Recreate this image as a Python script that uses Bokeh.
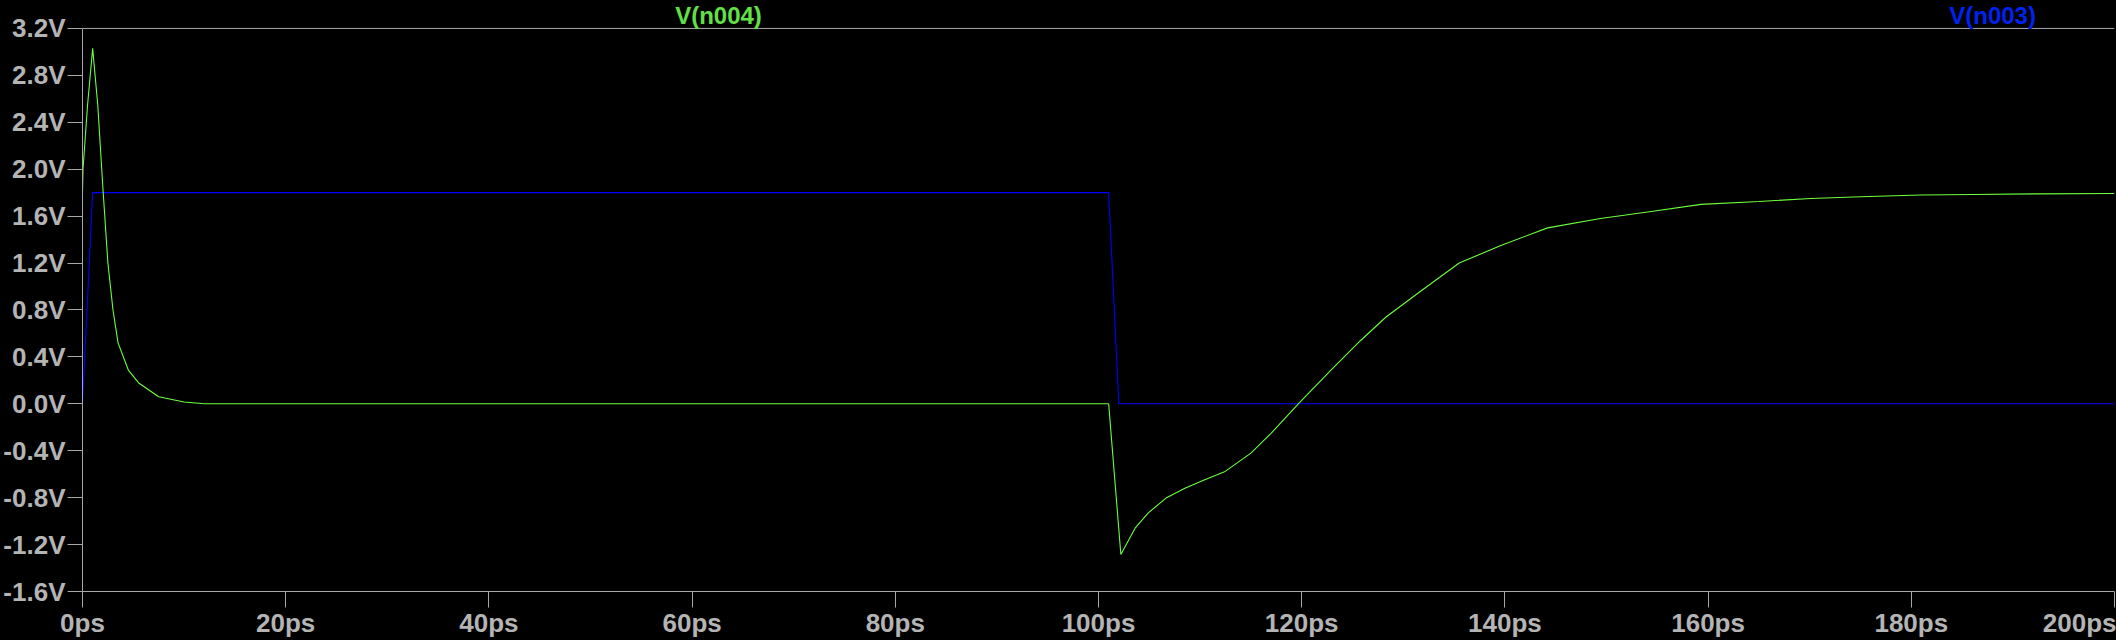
from bokeh.plotting import figure
from bokeh.models import FixedTicker, PrintfTickFormatter, Label, Range1d, Span
from bokeh.embed import file_html
from bokeh.resources import INLINE

# ---- data (time in ps, voltage in V) ----
series_names = ["V(n004)", "V(n003)"]

t_n003 = [0, 1, 101, 102, 200]
v_n003 = [0.0, 1.8, 1.8, 0.0, 0.0]

t_n004 = [0, 0.05, 0.5, 1.0, 1.5, 2.0, 2.5, 3.0, 3.5, 4.5, 5.5, 7.5, 10, 12,
          101, 102.2, 103.6, 104.9, 106.7, 108.5, 110.4, 112.4, 115.0, 117.0,
          119.9, 122.9, 125.8, 128.3, 131.7, 135.5, 139.6, 144.2, 149.4, 154.4,
          159.3, 165.0, 170.1, 175.0, 180.9, 186.0, 192.4, 200]
v_n004 = [1.8, 2.0, 2.55, 3.03, 2.55, 1.85, 1.2, 0.8, 0.52, 0.29, 0.18, 0.06, 0.015, 0.0,
          0.0, -1.285, -1.06, -0.93, -0.80, -0.72, -0.65, -0.58, -0.42, -0.25,
          0.02, 0.29, 0.54, 0.74, 0.96, 1.20, 1.35, 1.50, 1.58, 1.64,
          1.70, 1.725, 1.75, 1.765, 1.78, 1.785, 1.79, 1.793]

x_ticks = [0, 20, 40, 60, 80, 100, 120, 140, 160, 180, 200]
y_ticks = [-1.6, -1.2, -0.8, -0.4, 0.0, 0.4, 0.8, 1.2, 1.6, 2.0, 2.4, 2.8, 3.2]

X_MIN, X_MAX = 0, 200
Y_MIN, Y_MAX = -1.6, 3.2
PX_PER_V = 117.5          # vertical scale of the plot area
TOP_PAD_PX = 28           # space above the 3.2V line that holds the trace names

GREEN = "#6CFF3C"
GREEN_TXT = "#62E048"
BLUE = "#0000FF"
BLUE_TXT = "#0022EE"
GRAY = "#A8A8A8"
LABEL_GRAY = "#B4B4B4"

y_top = Y_MAX + TOP_PAD_PX / PX_PER_V

p = figure(width=2116, height=640, output_backend="svg", toolbar_location=None,
           x_range=Range1d(X_MIN, X_MAX), y_range=Range1d(Y_MIN, y_top),
           min_border_left=81, min_border_right=2, min_border_top=0, min_border_bottom=48)

p.background_fill_color = "black"
p.border_fill_color = "black"
p.outline_line_color = None
p.grid.visible = False

# top edge of the plot box
p.add_layout(Span(location=Y_MAX, dimension="width", line_color=GRAY, line_width=1))

p.line(t_n003, v_n003, line_color=BLUE, line_width=1.1)
p.line(t_n004, v_n004, line_color=GREEN, line_width=1.1)

# axes
p.xaxis.ticker = FixedTicker(ticks=x_ticks)
p.yaxis.ticker = FixedTicker(ticks=y_ticks)
p.yaxis.bounds = (Y_MIN, Y_MAX)
p.xaxis.formatter = PrintfTickFormatter(format="%dps")
p.yaxis.formatter = PrintfTickFormatter(format="%.1fV")
for ax in (p.xaxis[0], p.yaxis[0]):
    ax.axis_line_color = GRAY
    ax.major_tick_line_color = GRAY
    ax.minor_tick_line_color = None
    ax.major_tick_in = 0
    ax.major_label_text_color = LABEL_GRAY
    ax.major_label_text_font = "Liberation Sans"
    ax.major_label_text_font_style = "bold"
    ax.major_label_text_font_size = "26px"
p.xaxis.major_tick_out = 16
p.xaxis.major_label_standoff = 0
p.yaxis.major_tick_out = 15
p.yaxis.major_label_standoff = 2

# trace names above the 3.2V line
name_x = [62.6, 188.0]
name_colors = [GREEN_TXT, BLUE_TXT]
name_y = y_top - 15.3 / PX_PER_V
for nm, xx, cc in zip(series_names, name_x, name_colors):
    p.add_layout(Label(x=xx, y=name_y, text=nm, text_color=cc, text_align="center",
                       text_baseline="alphabetic", text_font="Liberation Sans",
                       text_font_style="bold", text_font_size="24px"))

html = file_html(p, INLINE)
html = html.replace("<head>", "<head><style>html,body{background:#000;}</style>", 1)
open("out.html", "w").write(html)
